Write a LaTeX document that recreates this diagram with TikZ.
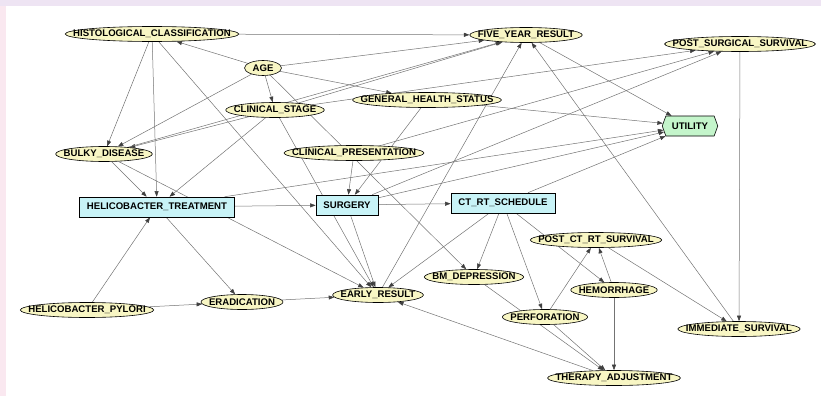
\documentclass[tikz,border=0pt]{standalone}
\usepackage{fontspec}
\setmainfont{Liberation Sans}
\usetikzlibrary{shapes.geometric,shapes.symbols,arrows.meta,backgrounds}
\definecolor{chancefill}{HTML}{F8F6C4}
\definecolor{decfill}{HTML}{C8F3F7}
\definecolor{utilfill}{HTML}{C4F5CB}
\definecolor{bandtop}{HTML}{EEE4F3}
\definecolor{bandleft}{HTML}{FAE8F0}
% ellipse hugs the label: shrink the box the shape sees
\newcommand{\tight}[1]{\makebox[0.7071\width]{#1}}

\begin{document}
\begin{tikzpicture}[x=1pt, y=-1pt,
  lbl/.style={font=\bfseries\fontsize{9.6pt}{11pt}\selectfont},
  chance/.style={lbl, ellipse, draw, line width=0.6pt, fill=chancefill, inner xsep=5.7pt, inner ysep=0pt, minimum height=15pt},
  decision/.style={lbl, rectangle, draw, line width=0.6pt, fill=decfill, inner xsep=7.5pt, inner ysep=0pt, minimum height=20pt},
  value/.style={lbl, signal, signal to=west and east, signal pointer angle=140, draw, line width=0.6pt, fill=utilfill, inner xsep=6pt, inner ysep=0pt, minimum height=20pt},
  link/.style={draw=black!55, line width=0.5pt, -{Triangle[length=5.5pt,width=4pt,color=black!75]}}]
\useasboundingbox (0,0) rectangle (821,396);

\node[chance] (hist) at (152,34){\tight{HISTOLOGICAL\_CLASSIFICATION}};
\node[chance] (age) at (263,68){\tight{AGE}};
\node[chance] (stage) at (275,110){\tight{CLINICAL\_STAGE}};
\node[chance] (health) at (427,100){\tight{GENERAL\_HEALTH\_STATUS}};
\node[chance] (bulky) at (104,154){\tight{BULKY\_DISEASE}};
\node[chance] (pres) at (354,153){\tight{CLINICAL\_PRESENTATION}};
\node[chance] (five) at (526,35){\tight{FIVE\_YEAR\_RESULT}};
\node[chance] (postsurg) at (740,44){\tight{POST\_SURGICAL\_SURVIVAL}};
\node[value] (util) at (690,126){UTILITY};
\node[decision] (htreat) at (157,207){HELICOBACTER\_TREATMENT};
\node[decision] (surg) at (347,205){SURGERY};
\node[decision] (ctrt) at (503,203){CT\_RT\_SCHEDULE};
\node[chance] (postct) at (596,240){\tight{POST\_CT\_RT\_SURVIVAL}};
\node[chance] (bm) at (474,277){\tight{BM\_DEPRESSION}};
\node[chance] (hem) at (614,290){\tight{HEMORRHAGE}};
\node[chance] (perf) at (545,317){\tight{PERFORATION}};
\node[chance] (immed) at (739,329){\tight{IMMEDIATE\_SURVIVAL}};
\node[chance] (ther) at (614,378){\tight{THERAPY\_ADJUSTMENT}};
\node[chance] (early) at (378,295){\tight{EARLY\_RESULT}};
\node[chance] (erad) at (242,302){\tight{ERADICATION}};
\node[chance] (pylori) at (87,310){\tight{HELICOBACTER\_PYLORI}};

\begin{scope}[on background layer]
\fill[bandtop] (0,0) rectangle (821,6);
\fill[bandleft] (0,6) rectangle (6,396);
% arcs lie under the nodes
\draw[link] (hist) -- (five);
\draw[link] (hist) -- (bulky);
\draw[link] (hist) -- (htreat);
\draw[link] (hist) -- (early);
\draw[link] (age) -- (hist);
\draw[link] (age) -- (five);
\draw[link] (age) -- (stage);
\draw[link] (age) -- (health);
\draw[link] (age) -- (bulky);
\draw[link] (age) -- (bm);
\draw[link] (stage) -- (bulky);
\draw[link] (stage) -- (htreat);
\draw[link] (stage) -- (five);
\draw[link] (stage) -- (postsurg);
\draw[link] (stage) -- (early);
\draw[link] (bulky) -- (htreat);
\draw[link] (bulky) -- (five);
\draw[link] (bulky) -- (early);
\draw[link] (health) -- (surg);
\draw[link] (health) -- (util);
\draw[link] (pres) -- (surg);
\draw[link] (pres) -- (postsurg);
\draw[link] (pylori) -- (htreat);
\draw[link] (pylori) -- (erad);
\draw[link] (htreat) -- (surg);
\draw[link] (htreat) -- (util);
\draw[link] (htreat) -- (erad);
\draw[link] (erad) -- (early);
\draw[link] (surg) -- (ctrt);
\draw[link] (surg) -- (early);
\draw[link] (surg) -- (util);
\draw[link] (surg) -- (postsurg);
\draw[link] (ctrt) -- (early);
\draw[link] (ctrt) -- (bm);
\draw[link] (ctrt) -- (perf);
\draw[link] (ctrt) -- (hem);
\draw[link] (ctrt) -- (util);
\draw[link] (early) -- (five);
\draw[link] (five) -- (util);
\draw[link] (postsurg) -- (immed);
\draw[link] (postct) -- (immed);
\draw[link] (immed) -- (five);
\draw[link] (perf) -- (postct);
\draw[link] (hem) -- (postct);
\draw[link] (hem) -- (ther);
\draw[link] (perf) -- (ther);
\draw[link] (bm) -- (ther);
\draw[link] (ther) -- (early);
\end{scope}
\end{tikzpicture}
\end{document}
